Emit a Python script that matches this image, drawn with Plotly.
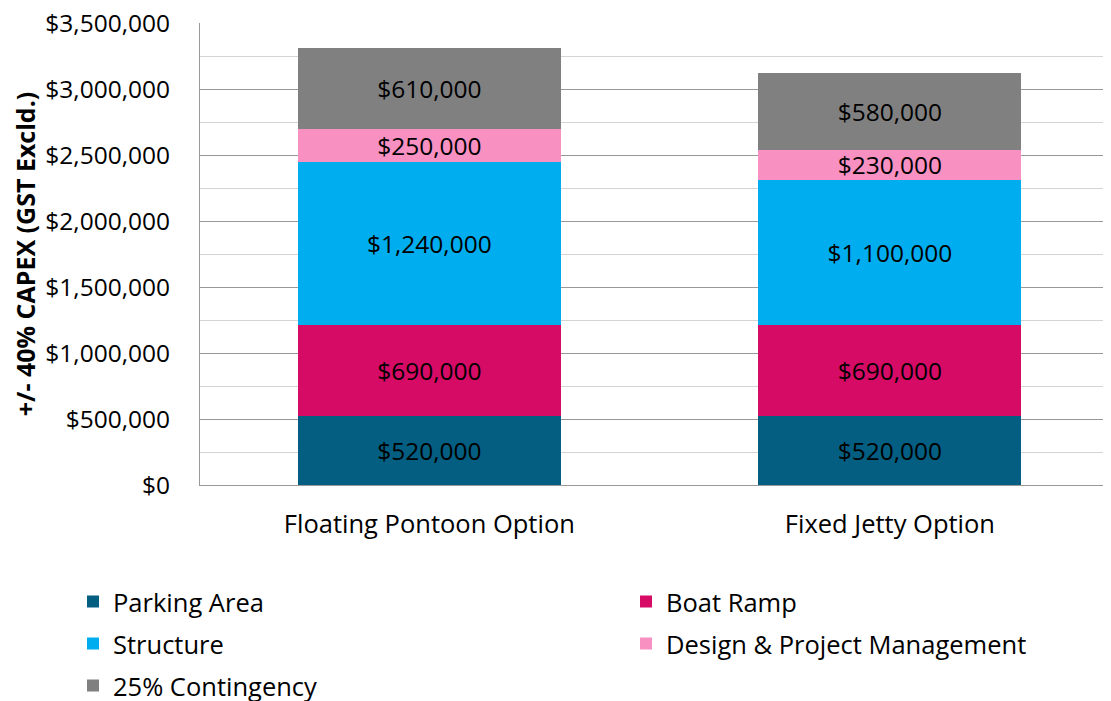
import plotly.graph_objects as go

categories = ["Floating Pontoon Option", "Fixed Jetty Option"]
series_names = ["Parking Area", "Boat Ramp", "Structure", "Design & Project Management", "25% Contingency"]
parking = [520000, 520000]
boat_ramp = [690000, 690000]
structure = [1240000, 1100000]
design = [250000, 230000]
contingency = [610000, 580000]
colors = ["#045E81", "#D60B66", "#00AEEF", "#F890C2", "#808080"]

FONT = "Open Sans"
FS = 24.5
LFS = 25.5
W, H = 1103, 693
ML, MT = 192, 15
plot_bottom = 477
plot_h = plot_bottom - MT

# legend slot: (column left x, row centre y) in figure pixels
legend_slots = [(65, 594), (618, 594), (65, 636), (618, 636), (65, 678)]
legend_keys = ["legend", "legend2", "legend3", "legend4", "legend5"]

fig = go.Figure()
for name, vals, col, lg in zip(series_names, [parking, boat_ramp, structure, design, contingency], colors, legend_keys):
    fig.add_trace(go.Bar(
        x=categories, y=vals, name=name, marker=dict(color=col, line=dict(width=0)),
        text=[f"${v:,.0f}" for v in vals], textposition="inside", insidetextanchor="middle",
        textfont=dict(color="black", size=FS, family=FONT), constraintext="none",
        hoverinfo="skip", legend=lg,
    ))

def leg(slot):
    lx, ly = slot
    return dict(orientation="h", xref="paper", yref="paper",
                x=(lx - ML) / (W - ML), y=(plot_bottom - ly) / plot_h,
                xanchor="left", yanchor="middle",
                font=dict(size=LFS, family=FONT, color="black"),
                bgcolor="rgba(0,0,0,0)")

legends = {k: leg(s) for k, s in zip(legend_keys, legend_slots)}

fig.update_layout(
    barmode="stack", bargap=0.429,
    width=W, height=H,
    margin=dict(l=ML, r=0, t=MT, b=H - plot_bottom, autoexpand=False),
    plot_bgcolor="white", paper_bgcolor="white",
    font=dict(family=FONT, size=FS, color="black"),
    uniformtext=dict(minsize=FS, mode="show"),
    showlegend=True,
    **legends,
    yaxis=dict(range=[0, 3500000], dtick=500000, tickformat="$,.0f",
               showgrid=True, gridcolor="#999999", gridwidth=1,
               minor=dict(dtick=250000, showgrid=True, gridcolor="#d4d4d4", gridwidth=1),
               showline=True, linecolor="#999999", linewidth=1, ticks="", ticklabelstandoff=24,
               ticklabeloverflow="allow",
               zeroline=False, tickfont=dict(size=FS, family=FONT),
               title=dict(text="<b>+/- 40% CAPEX (GST Excld.)</b>", font=dict(size=25, family=FONT), standoff=4)),
    xaxis=dict(range=[-0.498, 1.48], showline=True, linecolor="#999999", linewidth=1, ticks="",
               ticklabelstandoff=16, tickfont=dict(size=LFS, family=FONT)),
)

fig.write_html("out.html")
